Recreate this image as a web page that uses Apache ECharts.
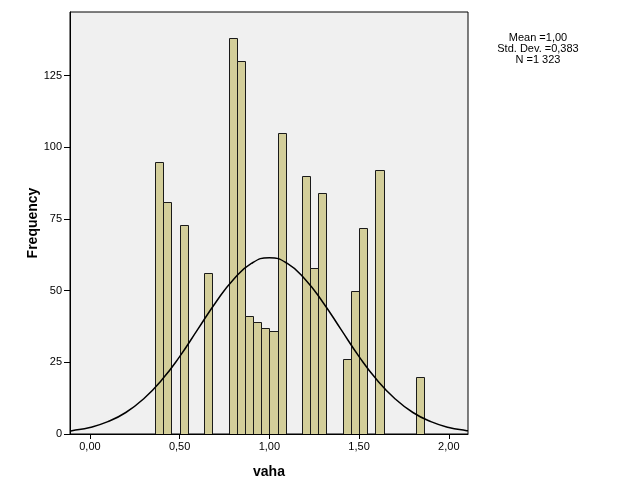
<!DOCTYPE html>
<html>
<head>
<meta charset="utf-8">
<script src="https://cdn.jsdelivr.net/npm/echarts@6/dist/echarts.min.js"></script>
<style>
html,body{margin:0;padding:0;background:#fff;}
#c{width:627px;height:502px;}
</style>
</head>
<body>
<div id="c"></div>
<script>
// Histogram bins (lower edge of each bin) and frequencies
var binWidth = 1 / 22;
var binLow = [8/22, 9/22, 11/22, 14/22, 17/22, 18/22, 19/22, 20/22, 21/22, 22/22, 23/22, 26/22, 27/22, 28/22, 31/22, 32/22, 33/22, 35/22, 40/22];
var counts = [95, 81, 73, 56, 138, 130, 41, 39, 37, 36, 105, 90, 58, 84, 26, 50, 72, 92, 20];

// Normal curve
var curveX = [-0.111, -0.1, 0.0, 0.1, 0.2, 0.3, 0.4, 0.5, 0.6, 0.7, 0.8, 0.9, 1.0, 1.1, 1.2, 1.3, 1.4, 1.5, 1.6, 1.7, 1.8, 1.9, 2.0, 2.1, 2.107];
var curveY = [1.05, 1.15, 2.3, 4.3, 7.5, 12.3, 18.8, 27.0, 36.4, 45.8, 53.9, 59.5, 61.5, 59.5, 53.9, 45.8, 36.4, 27.0, 18.8, 12.3, 7.5, 4.3, 2.3, 1.15, 1.1];

// Axis ticks and texts
var xTicks = [0, 0.5, 1.0, 1.5, 2.0];
var statsLines = ['Mean =1,00', 'Std. Dev. =0,383', 'N =1 323'];
var yTitle = 'Frequency';
var xTitle = 'vaha';

var barData = binLow.map(function (v, i) { return [v, counts[i]]; });
var lineData = curveX.map(function (v, i) { return [v, curveY[i]]; });

var chart = echarts.init(document.getElementById('c'), null, {renderer: 'canvas'});
var font = '"Liberation Sans", Arial, sans-serif';
var graphics = statsLines.map(function (t, i) {
  return {
    type: 'text', x: 538, y: 32 + i * 11,
    style: {text: t, font: '11px ' + font, fill: '#000', align: 'center', verticalAlign: 'top'}
  };
});
graphics.push({
  type: 'text', x: 33, y: 223, rotation: Math.PI / 2,
  style: {text: yTitle, font: 'bold 14px ' + font, fill: '#000', align: 'center', verticalAlign: 'middle'}
});
chart.setOption({
  backgroundColor: '#ffffff',
  animation: false,
  grid: {
    left: 70, right: 159, top: 12, bottom: 68,
    show: true, backgroundColor: '#F0F0F0', borderColor: '#000', borderWidth: 1
  },
  graphic: graphics,
  xAxis: {
    type: 'value', min: -0.111, max: 2.107,
    name: xTitle, nameLocation: 'middle', nameGap: 31,
    nameTextStyle: {fontFamily: font, fontSize: 14, fontWeight: 'bold', color: '#000'},
    axisLine: {show: true, onZero: false, lineStyle: {color: '#000', width: 1}},
    axisTick: {show: true, length: 5, customValues: xTicks, lineStyle: {color: '#000'}},
    axisLabel: {
      customValues: xTicks, fontFamily: font, fontSize: 11, color: '#000', margin: 7,
      formatter: function (v) { return v.toFixed(2).replace('.', ','); }
    },
    splitLine: {show: false}
  },
  yAxis: {
    type: 'value', min: 0, max: 147.2, interval: 25,
    axisLine: {show: true, onZero: false, lineStyle: {color: '#000', width: 1}},
    axisTick: {show: true, length: 6, lineStyle: {color: '#000'}},
    axisLabel: {fontFamily: font, fontSize: 11, color: '#000', margin: 8, showMaxLabel: false},
    splitLine: {show: false}
  },
  series: [{
    type: 'custom',
    data: barData,
    clip: true,
    renderItem: function (params, api) {
      var lo = api.value(0), c = api.value(1);
      var p1 = api.coord([lo, c]);
      var p2 = api.coord([lo + binWidth, 0]);
      return {
        type: 'rect',
        shape: {x: Math.round(p1[0]) + 0.5, y: Math.round(p1[1]) + 0.5, width: Math.round(p2[0]) - Math.round(p1[0]), height: Math.round(p2[1]) - Math.round(p1[1])},
        style: {fill: '#D3CE9A', stroke: '#1a1a1a', lineWidth: 1}
      };
    },
    z: 2
  }, {
    type: 'line',
    data: lineData,
    smooth: true,
    showSymbol: false,
    clip: true,
    lineStyle: {color: '#000', width: 1.5},
    z: 3
  }]
});
</script>
</body>
</html>
